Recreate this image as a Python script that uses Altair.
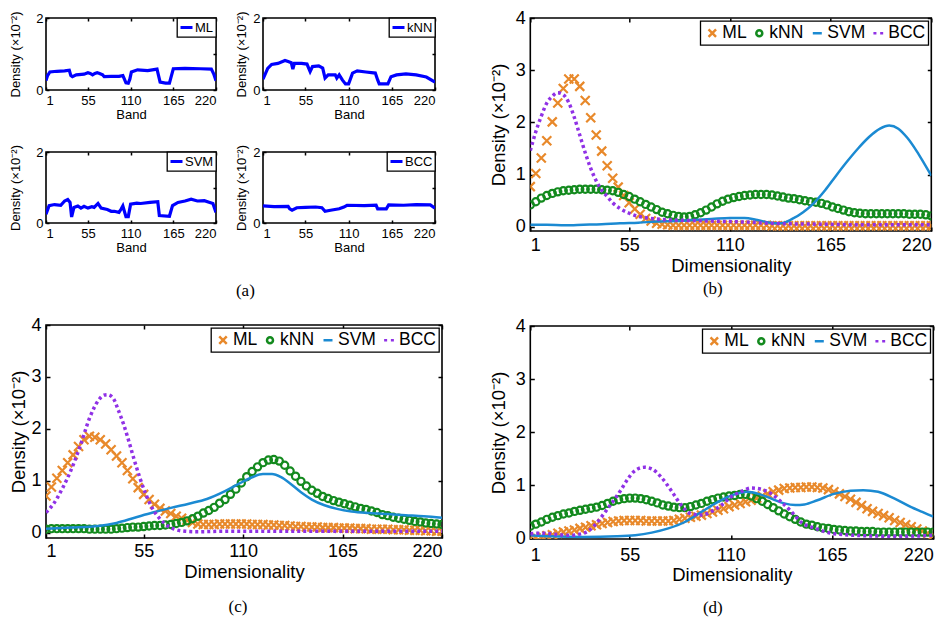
import altair as alt
import pandas as pd

FONT = "Liberation Sans"
SERIF = "Liberation Serif"

# ---------------- data ----------------
BAND_TICKS = [1, 55, 110, 165, 220]
SERIES = ["ML", "kNN", "SVM", "BCC"]
COLORS = ["#E8892B", "#138A1E", "#1B8AD2", "#9031E6"]
SHAPES = [
    "M-0.5,-0.5L0.5,0.5M-0.5,0.5L0.5,-0.5",
    "M0.4,0A0.4,0.4,0,1,1,-0.4,0A0.4,0.4,0,1,1,0.4,0",
    "M-0.6,0L0.6,0",
    "M-0.65,0L-0.25,0M0.25,0L0.65,0",
]
X_MARK = list(range(1, 221, 3))

# panel (a): density per band
ML_A_X = [1, 3, 6, 15, 25, 31, 33, 35, 40, 50, 55, 58, 61, 64, 67, 70, 74, 76, 85, 95, 100, 102, 104, 107,
          109, 111, 119, 132, 144, 146, 148, 155, 160, 162, 165, 180, 200, 214, 217, 220]
ML_A_Y = [0.26, 0.40, 0.50, 0.52, 0.53, 0.55, 0.40, 0.37, 0.42, 0.44, 0.48, 0.46, 0.42, 0.46, 0.48, 0.46,
          0.42, 0.37, 0.38, 0.38, 0.40, 0.30, 0.20, 0.19, 0.30, 0.50, 0.56, 0.54, 0.58, 0.40, 0.22, 0.19,
          0.19, 0.35, 0.59, 0.60, 0.59, 0.58, 0.45, 0.26]
KNN_A_X = [1, 7, 12, 20, 29, 33, 37, 39, 41, 50, 57, 61, 64, 72, 77, 80, 84, 93, 95, 98, 102, 106, 110,
           115, 121, 132, 144, 147, 149, 160, 164, 171, 183, 196, 209, 220]
KNN_A_Y = [0.30, 0.60, 0.71, 0.74, 0.82, 0.79, 0.76, 0.58, 0.74, 0.74, 0.72, 0.51, 0.65, 0.67, 0.61, 0.33,
           0.42, 0.42, 0.33, 0.42, 0.28, 0.17, 0.17, 0.47, 0.53, 0.50, 0.47, 0.28, 0.17, 0.17, 0.37, 0.42,
           0.45, 0.42, 0.36, 0.22]
SVM_A_X = [1, 5, 12, 20, 25, 29, 32, 34, 37, 42, 46, 50, 55, 60, 63, 68, 72, 80, 85, 89, 95, 98, 100, 104,
           107, 110, 118, 123, 135, 145, 147, 160, 164, 171, 180, 188, 196, 205, 212, 216, 220]
SVM_A_Y = [0.25, 0.49, 0.52, 0.50, 0.62, 0.66, 0.58, 0.17, 0.44, 0.48, 0.42, 0.47, 0.42, 0.46, 0.44, 0.55,
           0.42, 0.38, 0.33, 0.33, 0.30, 0.40, 0.48, 0.18, 0.18, 0.53, 0.56, 0.55, 0.58, 0.60, 0.21, 0.19,
           0.49, 0.58, 0.62, 0.67, 0.62, 0.63, 0.58, 0.55, 0.30]
BCC_A_X = [1, 15, 33, 35, 38, 44, 55, 68, 76, 80, 87, 98, 104, 108, 130, 145, 147, 158, 161, 180, 196, 214, 220]
BCC_A_Y = [0.48, 0.46, 0.47, 0.40, 0.36, 0.43, 0.44, 0.45, 0.43, 0.33, 0.36, 0.40, 0.45, 0.50, 0.49, 0.50,
           0.40, 0.40, 0.51, 0.50, 0.52, 0.51, 0.42]

# panel (b)
ML_B = [0.77, 1.02, 1.32, 1.65, 2.01, 2.37, 2.65, 2.83, 2.83, 2.69,
        2.42, 2.09, 1.76, 1.45, 1.17, 0.93, 0.76, 0.60, 0.46, 0.34,
        0.24, 0.16, 0.11, 0.07, 0.05, 0.04, 0.03,
        0.03, 0.03, 0.03, 0.03, 0.03, 0.03, 0.03, 0.03, 0.03, 0.03,
        0.03, 0.03, 0.03, 0.03, 0.03, 0.03, 0.03,
        0.02, 0.02, 0.02, 0.02, 0.02, 0.02, 0.02, 0.02, 0.02, 0.02,
        0.02, 0.02, 0.02, 0.02, 0.02, 0.02, 0.02, 0.02, 0.02, 0.02,
        0.02, 0.02, 0.02, 0.02, 0.02, 0.02, 0.02, 0.02, 0.02, 0.02]
KNN_B = [0.42, 0.48, 0.55, 0.60, 0.64, 0.67, 0.69, 0.70, 0.71, 0.72,
         0.72, 0.72, 0.72, 0.71, 0.70, 0.69, 0.66, 0.62, 0.58, 0.53,
         0.48, 0.43, 0.38, 0.33, 0.28, 0.25, 0.22, 0.20, 0.19, 0.20,
         0.23, 0.27, 0.32, 0.38, 0.44, 0.49, 0.53, 0.56, 0.58, 0.60,
         0.61, 0.62, 0.62, 0.62, 0.61, 0.59, 0.57, 0.55, 0.54, 0.52,
         0.50, 0.48, 0.47, 0.45, 0.42, 0.38, 0.35, 0.32, 0.29, 0.27,
         0.26, 0.25, 0.25, 0.25, 0.25, 0.25, 0.25, 0.25, 0.25, 0.24,
         0.24, 0.24, 0.23, 0.21]
SVM_B_X = [1, 10, 20, 30, 40, 50, 60, 70, 80, 90, 100, 110, 118, 125, 132, 138, 144, 150, 156, 162, 168,
           174, 180, 186, 192, 197, 202, 207, 212, 216, 220]
SVM_B_Y = [0.04, 0.04, 0.03, 0.04, 0.05, 0.07, 0.08, 0.10, 0.11, 0.13, 0.15, 0.17, 0.17, 0.13, 0.08, 0.07,
           0.15, 0.28, 0.46, 0.70, 0.98, 1.25, 1.50, 1.72, 1.88, 1.94, 1.88, 1.70, 1.45, 1.22, 0.98]
BCC_B_X = [1, 4, 7, 10, 13, 16, 19, 22, 25, 28, 31, 34, 37, 40, 43, 46, 50, 55, 60, 65, 70, 80, 90, 100,
           110, 120, 130, 140, 160, 180, 200, 220]
BCC_B_Y = [1.46, 1.82, 2.12, 2.37, 2.50, 2.57, 2.53, 2.38, 2.10, 1.76, 1.42, 1.12, 0.88, 0.70, 0.58, 0.46,
           0.35, 0.26, 0.20, 0.17, 0.15, 0.13, 0.12, 0.11, 0.10, 0.09, 0.07, 0.06, 0.05, 0.04, 0.04, 0.04]

# panel (c)
ML_C = [0.71, 0.88, 1.05, 1.20, 1.35, 1.50, 1.66, 1.79, 1.86, 1.84,
        1.79, 1.71, 1.60, 1.48, 1.35, 1.20, 1.04, 0.87, 0.74, 0.64,
        0.55, 0.47, 0.42, 0.37, 0.32, 0.28, 0.24, 0.20, 0.17, 0.16,
        0.16, 0.16, 0.17, 0.17, 0.17, 0.17, 0.17, 0.17, 0.16, 0.16,
        0.16, 0.15, 0.15, 0.14, 0.14, 0.13, 0.12, 0.12, 0.11, 0.11,
        0.11, 0.10, 0.10, 0.10, 0.09, 0.09, 0.09, 0.08, 0.08, 0.08,
        0.07, 0.07, 0.07, 0.07, 0.06, 0.06, 0.06, 0.05, 0.05, 0.05,
        0.04, 0.04, 0.03, 0.03]
KNN_C = [0.07, 0.08, 0.08, 0.08, 0.08, 0.08, 0.08, 0.08, 0.07, 0.07,
         0.07, 0.07, 0.07, 0.08, 0.09, 0.10, 0.11, 0.11, 0.12, 0.13,
         0.14, 0.14, 0.15, 0.16, 0.18, 0.20, 0.23, 0.27, 0.32, 0.38,
         0.43, 0.49, 0.57, 0.64, 0.74, 0.84, 0.96, 1.08, 1.18, 1.27,
         1.35, 1.40, 1.41, 1.38, 1.30, 1.19, 1.09, 0.99, 0.90, 0.82,
         0.76, 0.70, 0.66, 0.62, 0.59, 0.56, 0.53, 0.50, 0.47, 0.45,
         0.42, 0.39, 0.35, 0.33, 0.30, 0.28, 0.26, 0.24, 0.22, 0.21,
         0.19, 0.18, 0.17, 0.16]
SVM_C_X = [1, 15, 30, 40, 50, 60, 70, 80, 90, 100, 108, 115, 121, 126, 131, 136, 142, 148, 155, 162, 170,
           180, 190, 200, 210, 220]
SVM_C_Y = [0.08, 0.10, 0.13, 0.19, 0.29, 0.39, 0.48, 0.56, 0.65, 0.80, 0.95, 1.07, 1.13, 1.13, 1.07, 0.95,
           0.78, 0.64, 0.53, 0.46, 0.41, 0.38, 0.36, 0.34, 0.32, 0.29]
BCC_C_X = [1, 5, 10, 15, 20, 25, 30, 33, 35, 38, 41, 44, 47, 50, 53, 56, 60, 64, 68, 72, 78, 85, 100, 120,
           140, 160, 180, 200, 220]
BCC_C_Y = [0.39, 0.55, 0.85, 1.22, 1.68, 2.20, 2.55, 2.65, 2.66, 2.60, 2.36, 2.08, 1.74, 1.38, 1.05, 0.76,
           0.46, 0.27, 0.14, 0.07, 0.03, 0.02, 0.03, 0.03, 0.03, 0.03, 0.03, 0.03, 0.03]

# panel (d)
ML_D = [0.00, 0.02, 0.03, 0.05, 0.07, 0.10, 0.12, 0.14, 0.16, 0.19,
        0.21, 0.24, 0.26, 0.28, 0.30, 0.32, 0.33, 0.34, 0.34, 0.34,
        0.34, 0.33, 0.33, 0.33, 0.33, 0.33, 0.34, 0.36, 0.38, 0.40,
        0.42, 0.44, 0.47, 0.50, 0.53, 0.56, 0.60, 0.63, 0.66, 0.69,
        0.72, 0.76, 0.80, 0.84, 0.88, 0.91, 0.94, 0.95, 0.96, 0.96,
        0.97, 0.97, 0.96, 0.95, 0.92, 0.88, 0.84, 0.79, 0.74, 0.68,
        0.62, 0.56, 0.51, 0.47, 0.43, 0.39, 0.34, 0.30, 0.26, 0.22,
        0.18, 0.14, 0.10, 0.06]
KNN_D = [0.23, 0.27, 0.31, 0.36, 0.40, 0.43, 0.46, 0.48, 0.51, 0.53,
         0.55, 0.57, 0.59, 0.62, 0.66, 0.70, 0.73, 0.75, 0.76, 0.76,
         0.75, 0.73, 0.70, 0.67, 0.63, 0.61, 0.59, 0.58, 0.58, 0.60,
         0.63, 0.66, 0.70, 0.73, 0.76, 0.78, 0.80, 0.81, 0.83, 0.83,
         0.80, 0.75, 0.70, 0.64, 0.58, 0.52, 0.46, 0.41, 0.36, 0.31,
         0.27, 0.25, 0.22, 0.20, 0.19, 0.17, 0.16, 0.15, 0.14, 0.14,
         0.13, 0.13, 0.13, 0.12, 0.12, 0.12, 0.12, 0.12, 0.12, 0.12,
         0.12, 0.12, 0.12, 0.12]
SVM_D_X = [1, 12, 30, 48, 58, 67, 76, 85, 94, 103, 112, 119, 125, 132, 139, 145, 150, 157, 166, 175, 182,
           190, 199, 208, 214, 220]
SVM_D_Y = [0.06, 0.04, 0.03, 0.04, 0.06, 0.11, 0.19, 0.31, 0.50, 0.69, 0.83, 0.88, 0.84, 0.75, 0.66, 0.63,
           0.64, 0.72, 0.84, 0.90, 0.91, 0.88, 0.75, 0.59, 0.50, 0.41]
BCC_D_X = [1, 7, 14, 22, 29, 33, 36, 40, 43, 46, 50, 54, 57, 60, 63, 67, 72, 78, 83, 88, 94, 99, 105, 110,
           116, 121, 126, 132, 137, 143, 148, 156, 166, 184, 202, 220]
BCC_D_Y = [0.09, 0.10, 0.08, 0.06, 0.09, 0.15, 0.25, 0.42, 0.56, 0.70, 0.90, 1.12, 1.25, 1.32, 1.34, 1.31,
           1.16, 0.88, 0.63, 0.47, 0.44, 0.50, 0.63, 0.78, 0.89, 0.95, 0.93, 0.84, 0.70, 0.50, 0.31, 0.19,
           0.09, 0.05, 0.04, 0.06]

YTITLE = "Density (×10⁻²)"


def indep(ch):
    return ch.resolve_scale(x="independent", y="independent", color="independent", shape="independent")


def tick_axis(orient, values, tsize):
    # label-less axis whose inward ticks mark the opposite frame edge
    return alt.Axis(orient=orient, values=values, labels=False, title=None, ticks=True, tickSize=tsize,
                    tickColor="black", tickWidth=1.5, offset=-tsize, domain=False)


def small_panel(xs, ys, name, w, h, ytp):
    df = pd.DataFrame({"x": xs, "y": ys, "series": [name] * len(xs)})
    t = 3
    xs_ = alt.Scale(domain=[1, 220], nice=False, zero=False)
    ys_ = alt.Scale(domain=[0, 2], nice=False, zero=False)
    main = alt.Chart(df).mark_line(strokeWidth=3.2, clip=True).encode(
        x=alt.X("x:Q", scale=xs_,
                axis=alt.Axis(values=BAND_TICKS, format="d", title="Band", labelFontSize=13, titleFontSize=13,
                              labelPadding=4, titlePadding=1, minExtent=17 + t, maxExtent=17 + t,
                              ticks=True, tickSize=t, tickColor="black", tickWidth=1.5, offset=-t)),
        y=alt.Y("y:Q", scale=ys_,
                axis=alt.Axis(values=[0, 1, 2], format="d", title=YTITLE, labelFontSize=13, titleFontSize=13,
                              labelPadding=3, titlePadding=ytp, minExtent=11 + t, maxExtent=11 + t,
                              ticks=True, tickSize=t, tickColor="black", tickWidth=1.5, offset=-t)),
        color=alt.Color("series:N", scale=alt.Scale(domain=[name], range=["#0000FF"]),
                        legend=alt.Legend(title=None, orient="top-right", offset=0, labelFontSize=13,
                                          labelFont=FONT, labelColor="black", symbolType="stroke",
                                          symbolSize=144, symbolStrokeWidth=3, padding=2, labelOffset=1,
                                          strokeColor="black", fillColor="white")),
    )
    ticks_ = alt.Chart(df).mark_line(strokeOpacity=0).encode(
        x=alt.X("x:Q", scale=xs_, axis=tick_axis("top", BAND_TICKS, t)),
        y=alt.Y("y:Q", scale=ys_, axis=tick_axis("right", [0, 1, 2], t)),
    )
    return alt.layer(main, ticks_).resolve_axis(x="independent", y="independent").properties(width=w, height=h)


def big_panel(ml, knn, svm_x, svm_y, bcc_x, bcc_y, ydom, w, h, xlp, xext, xtp, ytp, caption, cap_off, cap_dx):
    pts = pd.DataFrame({"x": X_MARK + X_MARK, "y": ml + knn,
                        "series": ["ML"] * len(ml) + ["kNN"] * len(knn)})
    svm = pd.DataFrame({"x": svm_x, "y": svm_y})
    bcc = pd.DataFrame({"x": bcc_x, "y": bcc_y})
    t = 4
    xs_ = alt.Scale(domain=[1, 220], nice=False, zero=False)
    ys_ = alt.Scale(domain=ydom, nice=False, zero=False)
    xenc = alt.X("x:Q", scale=xs_,
                 axis=alt.Axis(values=BAND_TICKS, format="d", title="Dimensionality", labelFontSize=18,
                               titleFontSize=18.5, labelPadding=xlp, titlePadding=xtp,
                               minExtent=xext + t, maxExtent=xext + t,
                               ticks=True, tickSize=t, tickColor="black", tickWidth=1.5, offset=-t))
    yenc = alt.Y("y:Q", scale=ys_,
                 axis=alt.Axis(values=[0, 1, 2, 3, 4], format="d", title=YTITLE, labelFontSize=18,
                               titleFontSize=18.5, labelPadding=5, titlePadding=ytp,
                               minExtent=15 + t, maxExtent=15 + t,
                               ticks=True, tickSize=t, tickColor="black", tickWidth=1.5, offset=-t))
    leg = alt.Legend(title=None, orient="top-right", direction="horizontal", offset=3, padding=3,
                     labelFont=FONT, labelFontSize=17.5, labelColor="black", labelOffset=1, columnPadding=3,
                     symbolSize=225, symbolStrokeWidth=2.5, strokeColor="black", fillColor="white")
    points = alt.Chart(pts).mark_point(filled=False, size=324, strokeWidth=2.2, opacity=1, clip=True).encode(
        x=xenc, y=yenc,
        color=alt.Color("series:N", scale=alt.Scale(domain=SERIES, range=COLORS), legend=leg),
        shape=alt.Shape("series:N", scale=alt.Scale(domain=SERIES, range=SHAPES), legend=leg),
    )
    svm_line = alt.Chart(svm).mark_line(color=COLORS[2], strokeWidth=2.5, interpolate="monotone",
                                        clip=True).encode(
        x=alt.X("x:Q", scale=xs_, axis=tick_axis("top", BAND_TICKS, t)),
        y=alt.Y("y:Q", scale=ys_, axis=tick_axis("right", [0, 1, 2, 3, 4], t)),
    )
    bcc_line = alt.Chart(bcc).mark_line(color=COLORS[3], strokeWidth=3.5, strokeDash=[3, 3],
                                        interpolate="monotone", clip=True).encode(
        x=alt.X("x:Q", scale=xs_, axis=None),
        y=alt.Y("y:Q", scale=ys_, axis=None),
    )
    return alt.layer(points, svm_line, bcc_line).resolve_axis(x="independent", y="independent").properties(
        width=w, height=h,
        title=alt.TitleParams(caption, orient="bottom", anchor="middle", offset=cap_off, dx=cap_dx,
                              font=SERIF, fontSize=17, fontWeight="normal", color="black"))


a1 = small_panel(ML_A_X, ML_A_Y, "ML", 170, 72, 13)
a2 = small_panel(KNN_A_X, KNN_A_Y, "kNN", 172, 72, 4)
a3 = small_panel(SVM_A_X, SVM_A_Y, "SVM", 170, 71, 13)
a4 = small_panel(BCC_A_X, BCC_A_Y, "BCC", 172, 71, 4)

row1 = indep(alt.hconcat(a1, a2, spacing=16))
row2 = indep(alt.hconcat(a3, a4, spacing=16))
left_block = indep(alt.vconcat(row1, row2, spacing=21)).properties(
    title=alt.TitleParams("(a)", orient="bottom", anchor="middle", offset=28.5, dx=23,
                          font=SERIF, fontSize=17, fontWeight="normal", color="black"))

pb = big_panel(ML_B, KNN_B, SVM_B_X, SVM_B_Y, BCC_B_X, BCC_B_Y, [-0.08, 4], 401, 213,
               5, 23, 2.5, 6.5, "(b)", 6.2, -18)
pc = big_panel(ML_C, KNN_C, SVM_C_X, SVM_C_Y, BCC_C_X, BCC_C_Y, [-0.1, 4], 396, 213,
               4, 22, 2.4, 2.5, "(c)", 18.5, -6)
pd_ = big_panel(ML_D, KNN_D, SVM_D_X, SVM_D_Y, BCC_D_X, BCC_D_Y, [-0.01, 4], 403, 213,
                7, 25, 1.7, 6.5, "(d)", 15.8, -19)

left_col = indep(alt.vconcat(left_block, pc, spacing=15))
right_col = indep(alt.vconcat(pb, pd_, spacing=18))

chart = indep(alt.hconcat(left_col, right_col, spacing=44.3)).properties(
    padding=0
).configure_axis(
    domain=False, ticks=False, tickSize=0, grid=False, labelColor="black", titleColor="black",
    labelFont=FONT, titleFont=FONT, titleFontWeight="normal"
).configure_view(
    stroke="black", strokeWidth=1.6
).configure_legend(
    strokeWidth=1.3
)

chart.save("out.html", embed_options={"renderer": "svg", "actions": False})
